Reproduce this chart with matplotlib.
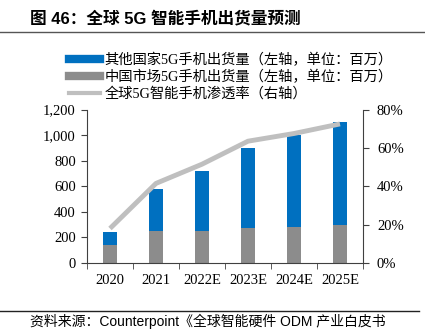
import numpy as np
import matplotlib.pyplot as plt
from matplotlib.lines import Line2D

# ================= 数据 =================
years = ['2020', '2021', '2022E', '2023E', '2024E', '2025E']
china_ship = [140, 250, 250, 275, 280, 295]          # 中国市场 (百万)
total_ship = [240, 576, 716, 902, 1002, 1100]        # 全球总量 (百万)
other_ship = [t - c for t, c in zip(total_ship, china_ship)]
penetration = [18, 41.5, 51.5, 63.5, 67.5, 72.5]      # 渗透率 (%)

left_ticks = [0, 200, 400, 600, 800, 1000, 1200]
right_ticks = [0, 20, 40, 60, 80]

BLUE = '#0070C0'
GREY = '#8C8C8C'
LGREY = '#BFBFBF'
SERIF = ['Liberation Serif', 'Noto Sans CJK SC']
SANS = ['Liberation Sans', 'Noto Sans CJK SC']

fig = plt.figure(figsize=(4.25, 3.31), dpi=100)
ax = fig.add_axes([0.2047, 0.2054, 0.6494, 0.4637])
x = np.arange(len(years))
w = 0.31

ax.bar(x, china_ship, width=w, color=GREY, zorder=2)
ax.bar(x, other_ship, width=w, bottom=china_ship, color=BLUE, zorder=2)
ax.set_xlim(-0.5, 5.5)
ax.set_ylim(0, 1200)
ax.set_yticks(left_ticks)
ax.set_yticklabels([f'{v:,}' for v in left_ticks], family=SERIF, fontsize=10.5)
ax.set_xticks(x)
ax.set_xticklabels(years, family=SERIF, fontsize=10.5)
ax.tick_params(axis='x', length=0, pad=8)
ax.set_xticks(np.arange(-0.5, 6, 1), minor=True)
ax.tick_params(axis='x', which='minor', length=4, color='#404040', direction='out')
ax.tick_params(axis='y', length=4, color='#404040', direction='out', pad=4)
for s in ['top', 'right']:
    ax.spines[s].set_visible(False)
for s in ['left', 'bottom']:
    ax.spines[s].set_color('#404040')

ax2 = ax.twinx()
ax2.plot(x, penetration, color=LGREY, lw=3.5, solid_capstyle='butt', zorder=3)
ax2.set_ylim(0, 80)
ax2.set_yticks(right_ticks)
ax2.set_yticklabels([f'{v}%' for v in right_ticks], family=SERIF, fontsize=10.5)
ax2.tick_params(axis='y', length=4, color='#404040', direction='out', pad=6)
for s in ['top', 'left', 'bottom']:
    ax2.spines[s].set_visible(False)
ax2.spines['right'].set_color('#404040')

# 图例
handles = [
    Line2D([0], [0], color=BLUE, lw=6),
    Line2D([0], [0], color=GREY, lw=6),
    Line2D([0], [0], color=LGREY, lw=3),
]
labels = ['其他国家5G手机出货量（左轴，单位：百万）',
          '中国市场5G手机出货量（左轴，单位：百万）',
          '全球5G智能手机渗透率（右轴）']
fig.legend(handles, labels, loc='upper left', bbox_to_anchor=(0.15, 0.858),
           frameon=False, prop={'family': SERIF, 'size': 10.3},
           handlelength=2.15, handletextpad=0.3, labelspacing=0.2, borderaxespad=0)

# 标题与来源
fig.text(0.07, 0.943, '图 46：全球 5G 智能手机出货量预测', family=SANS,
         fontsize=12, fontweight='bold', va='center', ha='left')
fig.add_artist(Line2D([0, 1], [0.902, 0.902], color='#555555', lw=1))
fig.add_artist(Line2D([0, 0.985], [0.061, 0.061], color='#222222', lw=1))
fig.text(0.07, 0.028, '资料来源：Counterpoint《全球智能硬件 ODM 产业白皮书', family=SANS,
         fontsize=10, va='center', ha='left')

fig.savefig('out.png', dpi=100)
